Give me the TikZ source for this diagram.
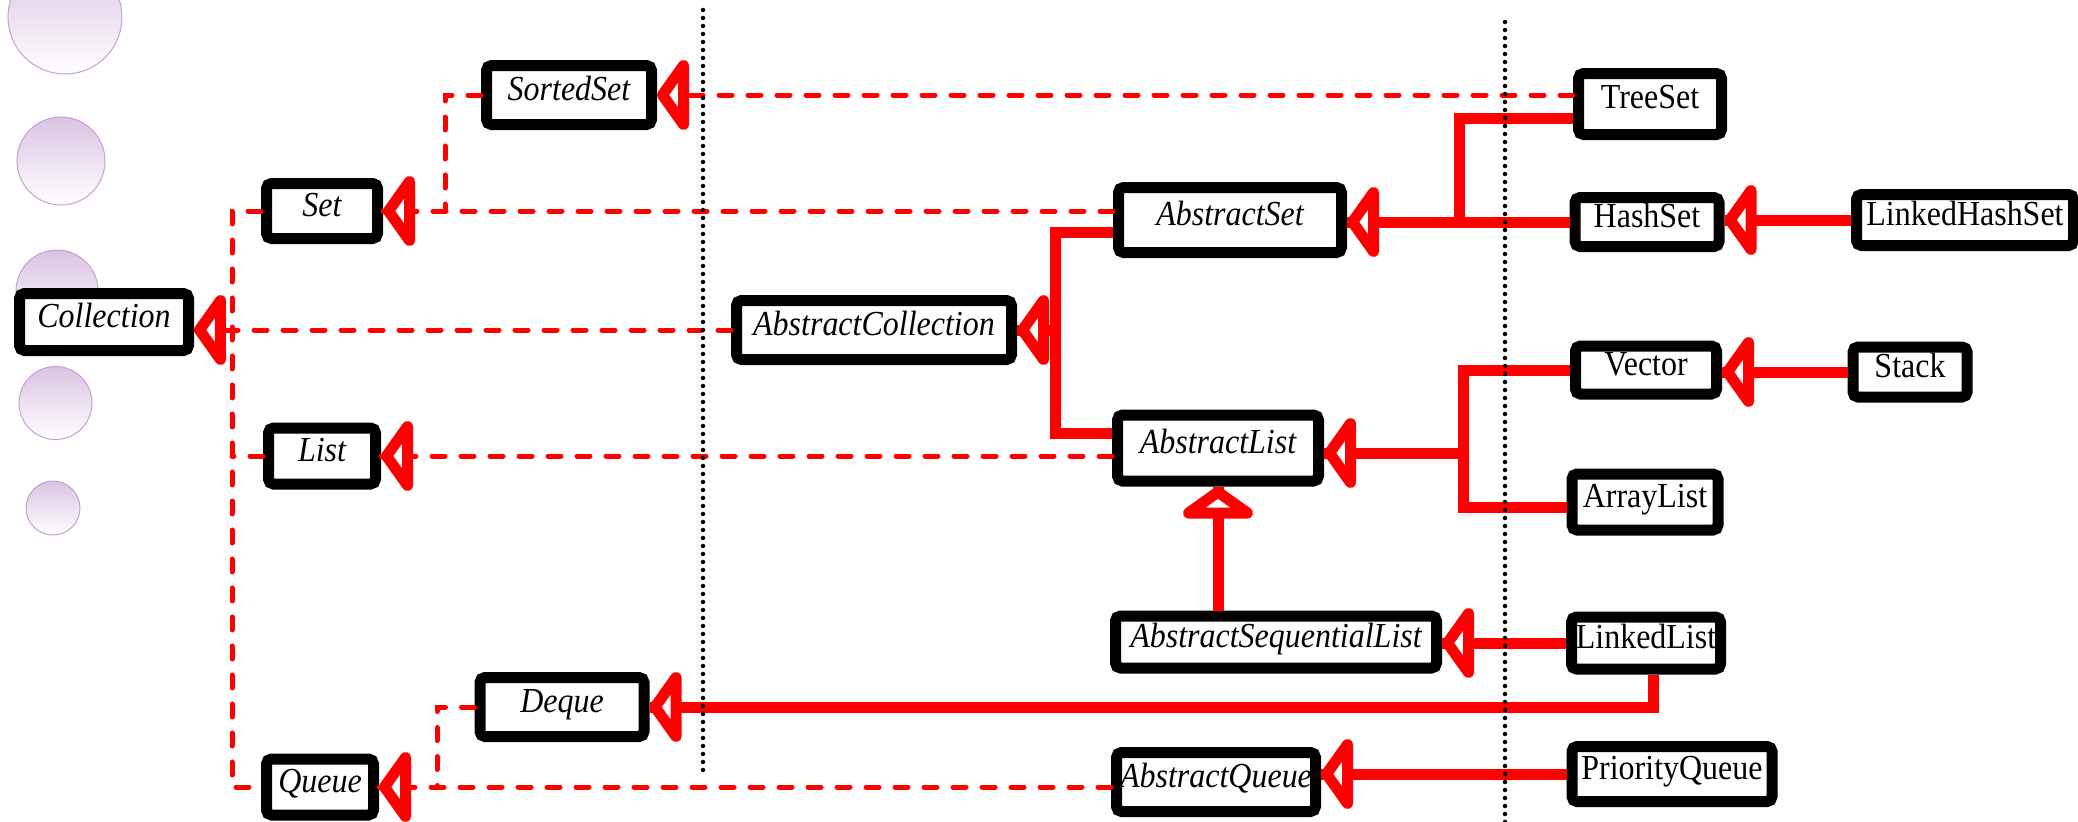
\documentclass[tikz,border=0pt]{standalone}
\usepackage{fontspec}
\setmainfont{Liberation Serif}[FakeStretch=0.91]
\usepackage{tikz}
\usetikzlibrary{arrows.meta,calc}
\usepackage{xcolor}
\definecolor{bubble}{RGB}{218,195,226}
\definecolor{bubbleedge}{RGB}{200,160,210}

\begin{document}
\begin{tikzpicture}[x=0.1mm,y=-0.1mm,
  cls/.style={draw=black,line width=1.1mm,fill=white,rounded corners=0.5mm,
    inner sep=0pt,minimum height=5.6mm,text height=2.2mm,text depth=1.2mm,
    font=\fontsize{10}{12}\selectfont},
  iface/.style={cls,font=\fontsize{10}{12}\selectfont\itshape},
  bubbles/.style={draw=bubbleedge,line width=0.1mm,top color=bubble,bottom color=white},
  genarrow/.pic={\draw[red,solid,line width=1.1mm,line join=round,fill=white]
    (0.55mm,0) -- ++(2.1mm,2.95mm) -- ++(0,-5.9mm) -- cycle;},
  impl/.style={red,line width=0.5mm,line cap=round,dash pattern=on 1.3mm off 1.6mm},
  ext/.style={red,line width=1.1mm},
  sep/.style={black,line width=0.45mm,line cap=round,dash pattern=on 0pt off 0.8mm}]
  \useasboundingbox (0,0) rectangle (2078,822);

  % bubbles on the left
  \foreach \cx/\cy/\r in {65/17/57,61/161/44,57/291/41,55.5/403/36.5,53/508/27}
    \shade[bubbles] (\cx,\cy) circle[radius=\r];

  % interfaces
  \node[iface,minimum width=16.9mm,minimum height=5.7mm] (Coll) at (104,322) {Collection};
  \node[iface,minimum width=11.1mm,minimum height=5.5mm] (Set) at (322,211) {Set};
  \node[iface,minimum width=16.5mm,minimum height=5.9mm] (SSet) at (569,95) {SortedSet};
  \node[iface,minimum width=10.7mm] (List) at (322,456) {List};
  \node[iface,minimum width=16.4mm,minimum height=5.9mm] (Deque) at (562,707) {Deque};
  \node[iface,minimum width=10.7mm] (Queue) at (320,787) {Queue};

  % abstract classes
  \node[iface,minimum width=27.5mm,minimum height=5.9mm] (AColl) at (874,330) {AbstractCollection};
  \node[iface,minimum width=22.3mm,minimum height=6.5mm] (ASet) at (1230,220) {AbstractSet};
  \node[iface,minimum width=20.1mm,minimum height=6.6mm] (AList) at (1218,448) {AbstractList};
  \node[iface,minimum width=32.1mm,minimum height=5.2mm] (ASL) at (1276,642) {AbstractSequentialList};
  \node[iface,minimum width=19.9mm,minimum height=5.9mm] (AQueue) at (1216,782) {AbstractQueue};

  % concrete classes
  \node[cls,minimum width=14.3mm,minimum height=6.1mm] (TreeSet) at (1650,104) {TreeSet};
  \node[cls,minimum width=14.4mm,minimum height=4.9mm] (HashSet) at (1647,222) {HashSet};
  \node[cls,minimum width=21.7mm,minimum height=5.1mm] (LHSet) at (1965,220) {LinkedHashSet};
  \node[cls,minimum width=14.1mm,minimum height=4.8mm] (Vector) at (1646,370) {Vector};
  \node[cls,minimum width=11.4mm,minimum height=5.0mm] (Stack) at (1910,372) {Stack};
  \node[cls,minimum width=14.6mm] (ArrayList) at (1645,502) {ArrayList};
  \node[cls,minimum width=14.9mm,minimum height=5.2mm] (LList) at (1646,643) {LinkedList};
  \node[cls,minimum width=20.0mm,minimum height=5.5mm] (PQueue) at (1672,774) {PriorityQueue};

  % join points
  \coordinate (bus) at (232,333);
  \coordinate (sj) at (445,211);
  \coordinate (qj) at (437,787);
  \coordinate (acj) at (1055,330);
  \coordinate (asj) at (1459,222);
  \coordinate (alj) at (1463,453);

  % implements
  \draw[impl] (Set.west) -| (bus |- Queue.west) -- (Queue.west);
  \draw[impl] (List.west) -- (List.west -| bus);
  \draw[impl] (SSet.west) -| (sj);
  \draw[impl] (Deque.west) -| (qj);
  \draw[impl] (AColl.west) -- (AColl.west -| Coll.east) pic {genarrow};
  \draw[impl] (SSet.east -| TreeSet.west) -- (SSet.east) pic {genarrow};
  \draw[impl] (Set.east -| ASet.west) -- (Set.east) pic {genarrow};
  \draw[impl] (List.east -| AList.west) -- (List.east) pic {genarrow};
  \draw[impl] (Queue.east -| AQueue.west) -- (Queue.east) pic {genarrow};

  % extends
  \draw[ext] ($(ASet.west)+(0,12)$) -| (acj) |- ($(AList.west)+(0,-15)$);
  \draw[ext] ($(TreeSet.west)+(0,14)$) -| (asj);
  \draw[ext] (Vector.west) -| (alj) |- ($(ArrayList.west)+(0,5)$);
  \draw[ext] (acj) -- (AColl.east) pic {genarrow};
  \draw[ext] (HashSet.west) -- (HashSet.west -| ASet.east) pic {genarrow};
  \draw[ext] (alj) -- (alj -| AList.east) pic {genarrow};
  \draw[ext] (LHSet.west) -- (LHSet.west -| HashSet.east) pic {genarrow};
  \draw[ext] (Stack.west) -- (Stack.west -| Vector.east) pic {genarrow};
  \draw[ext] (LList.west) -- (LList.west -| ASL.east) pic {genarrow};
  \draw[ext] (AList.south |- ASL.north) -- (AList.south) pic[rotate=-90] {genarrow};
  \draw[ext] ($(LList.south)+(7,0)$) |- (Deque.east) pic {genarrow};
  \draw[ext] (PQueue.west) -- (PQueue.west -| AQueue.east) pic {genarrow};

  % separators
  \draw[sep] (703,10) -- (703,773);
  \draw[sep] (1505,22) -- (1505,822);
\end{tikzpicture}
\end{document}
